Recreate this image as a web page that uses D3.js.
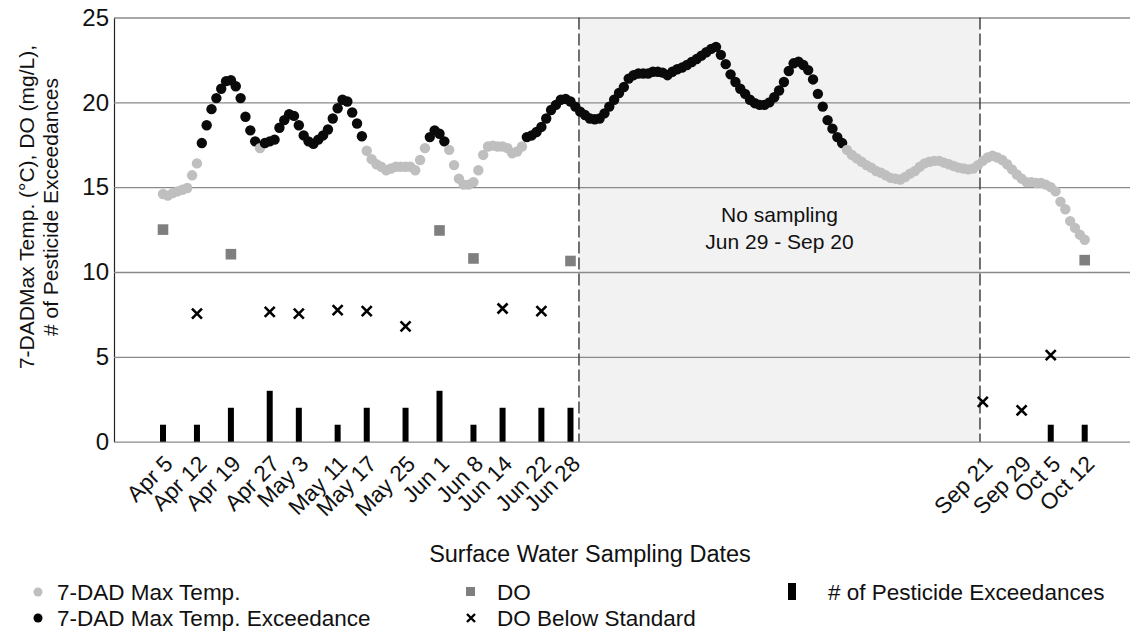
<!DOCTYPE html>
<html>
<head>
<meta charset="utf-8">
<script src="https://cdn.jsdelivr.net/npm/d3@7"></script>
<style>
  body { margin: 0; background: #fff; }
  svg { font-family: "Liberation Sans", Arial, sans-serif; }
</style>
</head>
<body>
<svg></svg>
<script>
// sampling dates and pesticide exceedance counts
const samplingDates = [
  "2017-04-05", "2017-04-12", "2017-04-19", "2017-04-27", "2017-05-03",
  "2017-05-11", "2017-05-17", "2017-05-25", "2017-06-01", "2017-06-08",
  "2017-06-14", "2017-06-22", "2017-06-28", "2017-09-21", "2017-09-29",
  "2017-10-05", "2017-10-12"
];
const pesticideCounts = [1, 1, 2, 3, 2, 1, 2, 2, 3, 1, 2, 2, 2, 0, 0, 1, 1];

// DO (mg/L) meeting the standard
const doDates = ["2017-04-05", "2017-04-19", "2017-06-01", "2017-06-08", "2017-06-28", "2017-10-12"];
const doValues = [12.5, 11.05, 12.45, 10.8, 10.65, 10.7];

// DO below standard
const doLowDates = [
  "2017-04-12", "2017-04-27", "2017-05-03", "2017-05-11", "2017-05-17", "2017-05-25",
  "2017-06-14", "2017-06-22", "2017-09-21", "2017-09-29", "2017-10-05"
];
const doLowValues = [7.55, 7.65, 7.55, 7.75, 7.7, 6.8, 7.85, 7.7, 2.35, 1.85, 5.1];

// 7-day average daily max temperature, one value per day from Apr 5
const tempStart = "2017-04-05";
const maxTemp = [
  14.6, 14.5, 14.65, 14.75, 14.85, 14.95, 15.7, 16.4, 17.6, 18.65,
  19.6, 20.25, 20.8, 21.25, 21.3, 20.95, 20.25, 19.15, 18.35, 17.7,
  17.3, 17.6, 17.7, 17.8, 18.5, 18.95, 19.3, 19.2, 18.65, 18.05,
  17.7, 17.55, 17.8, 18.05, 18.4, 19.05, 19.65, 20.15, 20.05, 19.4,
  18.75, 18.0, 17.15, 16.65, 16.35, 16.2, 16.0, 16.1, 16.2, 16.2,
  16.2, 16.2, 16.0, 16.6, 17.3, 17.95, 18.35, 18.15, 17.7, 17.2,
  16.3, 15.5, 15.15, 15.15, 15.3, 16.0, 16.9, 17.4, 17.45, 17.4,
  17.4, 17.3, 17.0, 17.1, 17.4, 17.95, 18.05, 18.25, 18.55, 19.05,
  19.55, 19.85, 20.15, 20.2, 20.05, 19.75, 19.45, 19.25, 19.05, 19.0,
  19.05, 19.35, 19.75, 20.15, 20.55, 20.9, 21.4, 21.6, 21.7, 21.7,
  21.7, 21.8, 21.8, 21.75, 21.6, 21.8, 21.95, 22.05, 22.2, 22.38,
  22.55, 22.75, 22.95, 23.15, 23.27, 22.8, 22.25, 21.65, 21.2, 20.8,
  20.5, 20.15, 19.95, 19.85, 19.85, 20.0, 20.3, 20.7, 21.2, 21.85,
  22.3, 22.4, 22.2, 21.9, 21.35, 20.5, 19.75, 18.95, 18.45, 17.95,
  17.6, 17.2, 16.9, 16.7, 16.5, 16.3, 16.15, 15.95, 15.85, 15.7,
  15.55, 15.5, 15.45, 15.6, 15.8, 15.95, 16.2, 16.4, 16.5, 16.55,
  16.55, 16.45, 16.35, 16.25, 16.15, 16.1, 16.05, 16.1, 16.3, 16.55,
  16.75, 16.85, 16.75, 16.6, 16.35, 16.05, 15.75, 15.5, 15.3, 15.3,
  15.25, 15.25, 15.15, 15.0, 14.75, 14.15, 13.7, 13.0, 12.6, 12.2,
  11.9
];
const tempStandard = 17.5;

const yTicks = [0, 5, 10, 15, 20, 25];

let width = 1130,
    height = 632;

let svg = d3.select("svg")
    .attr("width", width)
    .attr("height", height);

let parse = d3.timeParse("%Y-%m-%d");
let fmt = d3.timeFormat("%b %-d");

let plotLeft = 114, plotRight = 1130;

let x = d3.scaleTime()
    .domain([parse("2017-04-05"), parse("2017-10-12")])
    .range([163, 1084.7]);

let y = d3.scaleLinear()
    .domain([0, 25])
    .range([441.7, 17.5]);

// no-sampling window
let gapStart = new Date(2017, 5, 29, 18);
let gapEnd = new Date(2017, 8, 20, 10);

svg.append("rect")
    .attr("x", x(gapStart))
    .attr("y", y(25))
    .attr("width", x(gapEnd) - x(gapStart))
    .attr("height", y(0) - y(25))
    .attr("fill", "#f2f2f2");

// gridlines + y labels
let yAxis = svg.append("g")
    .attr("transform", `translate(${plotLeft},0)`)
    .call(d3.axisLeft(y)
        .tickValues(yTicks)
        .tickSize(-(plotRight - plotLeft))
        .tickSizeOuter(0)
        .tickPadding(5));
yAxis.select(".domain").attr("stroke", "#222").attr("stroke-width", 1.2);
yAxis.selectAll(".tick line").attr("stroke", "#8a8a8a").attr("stroke-width", 1.3);
yAxis.selectAll(".tick text")
    .attr("font-size", 24)
    .attr("fill", "#111")
    .attr("font-family", "Liberation Sans, Arial, sans-serif");

// dashed boundaries
svg.selectAll(".gapline")
    .data([gapStart, gapEnd])
    .enter().append("line")
    .attr("x1", d => x(d)).attr("x2", d => x(d))
    .attr("y1", y(25)).attr("y2", y(0))
    .attr("stroke", "#444")
    .attr("stroke-width", 1.5)
    .attr("stroke-dasharray", "12,4");

svg.append("text")
    .attr("x", (x(gapStart) + x(gapEnd)) / 2)
    .attr("y", 222)
    .attr("text-anchor", "middle")
    .attr("font-size", 21)
    .attr("fill", "#111")
    .text("No sampling");
svg.append("text")
    .attr("x", (x(gapStart) + x(gapEnd)) / 2)
    .attr("y", 249)
    .attr("text-anchor", "middle")
    .attr("font-size", 21)
    .attr("fill", "#111")
    .text("Jun 29 - Sep 20");

// pesticide bars
let bars = samplingDates.map((d, i) => ({ date: parse(d), n: pesticideCounts[i] }));
svg.selectAll(".bar")
    .data(bars.filter(d => d.n > 0))
    .enter().append("rect")
    .attr("x", d => x(d.date) - 3)
    .attr("y", d => y(d.n))
    .attr("width", 6)
    .attr("height", d => y(0) - y(d.n))
    .attr("fill", "#000");

// temperature dots
let temps = maxTemp.map((v, i) => ({ date: d3.timeDay.offset(parse(tempStart), i), v: v }));
svg.selectAll(".temp")
    .data(temps)
    .enter().append("circle")
    .attr("cx", d => x(d.date))
    .attr("cy", d => y(d.v))
    .attr("r", 5.2)
    .attr("fill", d => d.v > tempStandard ? "#0a0a0a" : "#bfbfbf");

// DO squares
svg.selectAll(".do")
    .data(doDates.map((d, i) => ({ date: parse(d), v: doValues[i] })))
    .enter().append("rect")
    .attr("x", d => x(d.date) - 5.3)
    .attr("y", d => y(d.v) - 5.3)
    .attr("width", 10.6)
    .attr("height", 10.6)
    .attr("fill", "#7f7f7f");

// DO below standard
let cross = "M-5,-5L5,5M5,-5L-5,5";
svg.selectAll(".dolow")
    .data(doLowDates.map((d, i) => ({ date: parse(d), v: doLowValues[i] })))
    .enter().append("path")
    .attr("transform", d => `translate(${x(d.date)},${y(d.v)})`)
    .attr("d", cross)
    .attr("stroke", "#000")
    .attr("stroke-width", 2.6)
    .attr("fill", "none");

// x axis labels
let xAxis = svg.append("g")
    .attr("transform", `translate(0,${y(0)})`)
    .call(d3.axisBottom(x)
        .tickValues(samplingDates.map(parse))
        .tickFormat(fmt)
        .tickSize(0));
xAxis.select(".domain").remove();
xAxis.selectAll(".tick text")
    .attr("font-size", 22.5)
    .attr("fill", "#111")
    .attr("font-family", "Liberation Sans, Arial, sans-serif")
    .attr("text-anchor", "end")
    .attr("dy", "0.35em")
    .attr("y", 0)
    .attr("transform", "translate(5,18) rotate(-45)");

svg.append("text")
    .attr("x", 590)
    .attr("y", 562)
    .attr("text-anchor", "middle")
    .attr("font-size", 23.5)
    .attr("fill", "#111")
    .text("Surface Water Sampling Dates");

// y title
let yTitle = svg.append("text")
    .attr("transform", "translate(34,207) rotate(-90)")
    .attr("text-anchor", "middle")
    .attr("font-size", 21)
    .attr("fill", "#111");
yTitle.append("tspan").attr("x", 0).attr("dy", 0).text("7-DADMax Temp. (°C), DO (mg/L),");
yTitle.append("tspan").attr("x", 0).attr("dy", 24).text("# of Pesticide Exceedances");

// legend
let lg = svg.append("g").attr("font-size", 22.5).attr("fill", "#111");
let row1 = 600, row2 = 626;
lg.append("circle").attr("cx", 38).attr("cy", row1 - 8).attr("r", 4.5).attr("fill", "#bfbfbf");
lg.append("text").attr("x", 57).attr("y", row1).text("7-DAD Max Temp.");
lg.append("circle").attr("cx", 38).attr("cy", row2 - 8).attr("r", 4.5).attr("fill", "#000");
lg.append("text").attr("x", 57).attr("y", row2).text("7-DAD Max Temp. Exceedance");
lg.append("rect").attr("x", 466).attr("y", row1 - 13).attr("width", 9).attr("height", 9).attr("fill", "#7f7f7f");
lg.append("text").attr("x", 497).attr("y", row1).text("DO");
lg.append("path").attr("transform", `translate(471,${row2 - 8})`)
    .attr("d", "M-4,-4L4,4M4,-4L-4,4").attr("stroke", "#000").attr("stroke-width", 2.4);
lg.append("text").attr("x", 497).attr("y", row2).text("DO Below Standard");
lg.append("rect").attr("x", 788).attr("y", row1 - 17).attr("width", 8).attr("height", 17).attr("fill", "#000");
lg.append("text").attr("x", 828).attr("y", row1).text("# of Pesticide Exceedances");
</script>
</body>
</html>
